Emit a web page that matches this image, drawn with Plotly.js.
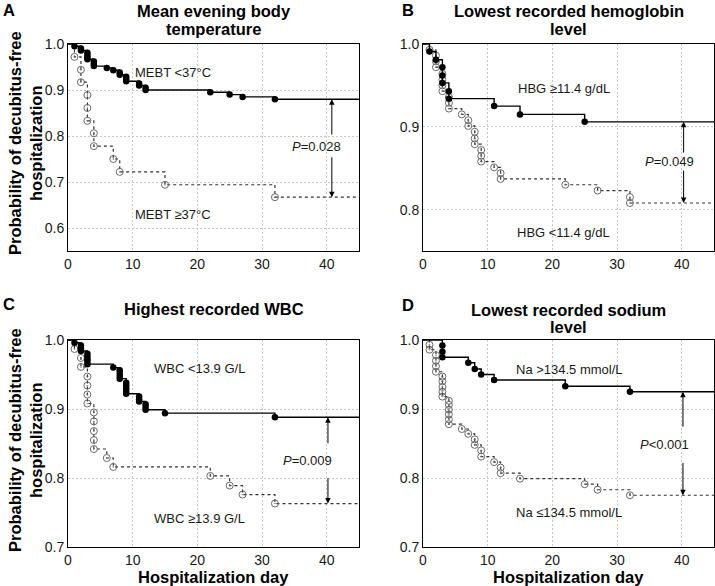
<!DOCTYPE html>
<html><head><meta charset="utf-8">
<script src="https://cdn.plot.ly/plotly-3.0.1.min.js"></script>
<style>html,body{margin:0;padding:0;background:#fff}#chart{width:715px;height:586px}</style>
</head><body><div id="chart"></div>
<script>
// ---------------- DATA ----------------
const followUpEnd = 45;
const panelLetters = ["A", "B", "C", "D"];
const panelTitles = [["Mean evening body", "temperature"], ["Lowest recorded hemoglobin", "level"], ["Highest recorded WBC"], ["Lowest recorded sodium", "level"]];
const groupLabelsUpper = ["MEBT <37°C", "HBG ≥11.4 g/dL", "WBC <13.9 G/L", "Na >134.5 mmol/L"];
const groupLabelsLower = ["MEBT ≥37°C", "HBG <11.4 g/dL", "WBC ≥13.9 G/L", "Na ≤134.5 mmol/L"];
const pValueTexts = ["<i>P</i>=0.028", "<i>P</i>=0.049", "<i>P</i>=0.009", "<i>P</i><0.001"];
const yAxisTitleLines = ["Probability of decubitus-free", "hospitalization"];
const xAxisTitle = "Hospitalization day";

// Panel A: mean evening body temperature
const aSolidDays = [1, 2, 2, 3, 3, 3, 3, 4, 4, 4, 6, 7, 8, 8, 9, 9, 9, 11, 11, 12, 12, 22, 25, 27, 32];
const aSolidSurv = [0.995, 0.990, 0.986, 0.981, 0.976, 0.971, 0.967, 0.962, 0.957, 0.952, 0.948, 0.943, 0.938, 0.933, 0.929, 0.924, 0.919, 0.914, 0.910, 0.905, 0.900, 0.895, 0.890, 0.885, 0.880];
const aDashDays = [1, 2, 2, 3, 3, 3, 4, 4, 7, 8, 15, 32];
const aDashSurv = [0.972, 0.944, 0.917, 0.889, 0.861, 0.833, 0.806, 0.778, 0.750, 0.722, 0.694, 0.667];

// Panel B: lowest recorded hemoglobin
const bSolidDays = [1, 2, 3, 3, 3, 4, 4, 11, 15, 25];
const bSolidSurv = [0.991, 0.981, 0.972, 0.962, 0.953, 0.943, 0.934, 0.925, 0.915, 0.906];
const bDashDays = [1, 2, 2, 2, 3, 3, 3, 3, 4, 4, 4, 6, 7, 7, 8, 8, 8, 9, 9, 9, 11, 12, 12, 22, 27, 32, 32];
const bDashSurv = [0.993, 0.986, 0.979, 0.972, 0.964, 0.957, 0.950, 0.943, 0.936, 0.929, 0.922, 0.915, 0.908, 0.901, 0.894, 0.886, 0.879, 0.872, 0.865, 0.858, 0.851, 0.844, 0.837, 0.830, 0.823, 0.815, 0.808];

// Panel C: highest recorded WBC
const cSolidDays = [1, 2, 2, 2, 3, 3, 3, 3, 3, 7, 8, 8, 8, 8, 9, 9, 9, 9, 9, 11, 11, 11, 12, 12, 12, 15, 32];
const cSolidSurv = [0.996, 0.992, 0.988, 0.984, 0.980, 0.976, 0.972, 0.969, 0.965, 0.960, 0.956, 0.952, 0.948, 0.944, 0.938, 0.934, 0.930, 0.926, 0.922, 0.918, 0.914, 0.911, 0.907, 0.903, 0.899, 0.894, 0.888];
const cDashDays = [1, 2, 2, 3, 3, 3, 3, 4, 4, 4, 4, 4, 6, 7, 22, 25, 27, 32];
const cDashSurv = [0.987, 0.974, 0.961, 0.947, 0.934, 0.921, 0.908, 0.895, 0.882, 0.868, 0.855, 0.842, 0.829, 0.816, 0.803, 0.789, 0.776, 0.763];

// Panel D: lowest recorded sodium
const dSolidDays = [3, 3, 3, 7, 8, 9, 11, 22, 32];
const dSolidSurv = [0.992, 0.983, 0.975, 0.967, 0.958, 0.950, 0.942, 0.933, 0.925];
const dDashDays = [1, 1, 2, 2, 2, 2, 3, 3, 3, 3, 3, 4, 4, 4, 4, 4, 4, 6, 7, 8, 8, 9, 9, 11, 12, 12, 15, 25, 27, 32];
const dDashSurv = [0.993, 0.986, 0.978, 0.970, 0.962, 0.954, 0.947, 0.940, 0.932, 0.925, 0.918, 0.912, 0.906, 0.899, 0.892, 0.885, 0.878, 0.871, 0.864, 0.856, 0.848, 0.840, 0.831, 0.823, 0.815, 0.807, 0.799, 0.791, 0.783, 0.775];

// ---------------- LAYOUT / DRAWING ----------------
const W = 715, H = 586;
const FONT = "'Liberation Sans', Arial, Helvetica, sans-serif";
const TXT = "#1a1a1a";
const px = v => v / W;
const py = v => 1 - v / H;

const panels = [
  {solid: [aSolidDays, aSolidSurv], dash: [aDashDays, aDashSurv], xd: [68, 359], yd: [44, 251], yr: [0.55, 1.0],
   up: [16.2, 0.939], lo: [16.2, 0.63], p: [38.5, 0.778], arrX: 40.8, arrUp: 0.80, arrLo: 0.757},
  {solid: [bSolidDays, bSolidSurv], dash: [bDashDays, bDashSurv], xd: [423, 714], yd: [44, 251], yr: [0.75, 1.0],
   up: [21.8, 0.946], lo: [21.8, 0.772], p: [38.1, 0.858], arrX: 40.3, arrUp: 0.867, arrLo: 0.849},
  {solid: [cSolidDays, cSolidSurv], dash: [cDashDays, cDashSurv], xd: [68, 359], yd: [340, 547], yr: [0.7, 1.0],
   up: [20.4, 0.958], lo: [20.4, 0.741], p: [37.1, 0.826], arrX: 40.2, arrUp: 0.848, arrLo: 0.802},
  {solid: [dSolidDays, dSolidSurv], dash: [dDashDays, dDashSurv], xd: [423, 714], yd: [340, 547], yr: [0.7, 1.0],
   up: [22.6, 0.957], lo: [22.6, 0.75], p: [37.3, 0.848], arrX: 40.2, arrUp: 0.872, arrLo: 0.824}
];

const traces = [];
const layout = {
  width: W, height: H, margin: {l: 0, r: 0, t: 0, b: 0},
  paper_bgcolor: "#fff", plot_bgcolor: "#fff", showlegend: false,
  font: {family: FONT, color: TXT}, annotations: []
};

function stepLine(days, surv) {
  return {x: [0].concat(days, [followUpEnd]), y: [1].concat(surv, [surv[surv.length - 1]])};
}

panels.forEach((p, i) => {
  const n = i + 1;
  const xa = n === 1 ? "x" : "x" + n, ya = n === 1 ? "y" : "y" + n;
  const xk = n === 1 ? "xaxis" : "xaxis" + n, yk = n === 1 ? "yaxis" : "yaxis" + n;
  const axBase = {showline: true, linecolor: "#000", linewidth: 1, mirror: true, showgrid: true,
    gridcolor: "#c8c8c8", griddash: "2px,2px", gridwidth: 1, zeroline: false, ticks: "",
    tickfont: {size: 14, color: TXT, family: FONT}, fixedrange: true};
  layout[xk] = Object.assign({}, axBase, {domain: [px(p.xd[0]), px(p.xd[1])], range: [0, followUpEnd],
    tick0: 0, dtick: 10, anchor: ya});
  layout[yk] = Object.assign({}, axBase, {domain: [py(p.yd[1]), py(p.yd[0])], range: p.yr,
    tick0: 0.5, dtick: 0.1, tickformat: ".1f", anchor: xa});

  const dl = stepLine(p.dash[0], p.dash[1]);
  traces.push({x: dl.x, y: dl.y, xaxis: xa, yaxis: ya, mode: "lines", line: {shape: "hv", color: "#333", width: 1.2, dash: "3px,3px"}, hoverinfo: "skip"});
  traces.push({x: p.dash[0], y: p.dash[1], xaxis: xa, yaxis: ya, mode: "markers",
    marker: {symbol: "circle-open-dot", size: 7, color: "#6a6a6a", line: {width: 1, color: "#6a6a6a"}}, hoverinfo: "skip"});
  const sl = stepLine(p.solid[0], p.solid[1]);
  traces.push({x: sl.x, y: sl.y, xaxis: xa, yaxis: ya, mode: "lines", line: {shape: "hv", color: "#000", width: 1.4}, hoverinfo: "skip"});
  traces.push({x: p.solid[0], y: p.solid[1], xaxis: xa, yaxis: ya, mode: "markers",
    marker: {symbol: "circle", size: 6.5, color: "#000"}, hoverinfo: "skip"});

  const A = layout.annotations;
  const lab = {font: {size: 13, color: TXT, family: FONT}, showarrow: false, xanchor: "center", yanchor: "middle"};
  A.push(Object.assign({xref: xa, yref: ya, x: p.up[0], y: p.up[1], text: groupLabelsUpper[i]}, lab));
  A.push(Object.assign({xref: xa, yref: ya, x: p.lo[0], y: p.lo[1], text: groupLabelsLower[i]}, lab));
  A.push(Object.assign({xref: xa, yref: ya, x: p.p[0], y: p.p[1], text: pValueTexts[i]}, lab));
  const sTop = p.solid[1][p.solid[1].length - 1], dTop = p.dash[1][p.dash[1].length - 1];
  const arr = {xref: xa, yref: ya, axref: xa, ayref: ya, text: "", showarrow: true, arrowhead: 2, arrowsize: 1.1, arrowwidth: 1, arrowcolor: "#000", standoff: 0, startstandoff: 0};
  A.push(Object.assign({x: p.arrX, y: sTop, ax: p.arrX, ay: p.arrUp}, arr));
  A.push(Object.assign({x: p.arrX, y: dTop, ax: p.arrX, ay: p.arrLo}, arr));

  // panel letter & title
  const cx = (p.xd[0] + p.xd[1]) / 2;
  const letterPos = [[9, 0], [408, 0], [9, 294], [408, 295]][i];
  A.push({xref: "paper", yref: "paper", x: px(letterPos[0]), y: py(letterPos[1]), text: "<b>" + panelLetters[i] + "</b>",
    showarrow: false, xanchor: "center", yanchor: "top", borderpad: 0, font: {size: 16.5, color: "#000", family: FONT}});
  const titleY = [[11, 29], [11, 29], [309], [310, 327]][i];
  panelTitles[i].forEach((t, k) => {
    A.push({xref: "paper", yref: "paper", x: px(cx), y: py(titleY[k]), text: "<b>" + t + "</b>",
      showarrow: false, xanchor: "center", yanchor: "middle", font: {size: 16.5, color: "#000", family: FONT}});
  });
  if (i === 0 || i === 2) {
    const yc = i === 0 ? 143 : 440;
    [15, 36].forEach((xx, k) => {
      A.push({xref: "paper", yref: "paper", x: px(xx), y: py(yc), text: "<b>" + yAxisTitleLines[k] + "</b>", textangle: -90,
        showarrow: false, xanchor: "center", yanchor: "middle", font: {size: 16.5, color: "#000", family: FONT}});
    });
  }
  if (i >= 2) {
    A.push({xref: "paper", yref: "paper", x: px(cx), y: py(577), text: "<b>" + xAxisTitle + "</b>",
      showarrow: false, xanchor: "center", yanchor: "middle", borderpad: 0, font: {size: 16.5, color: "#000", family: FONT}});
  }
});

Plotly.newPlot("chart", traces, layout, {staticPlot: true, displayModeBar: false});
</script></body></html>
